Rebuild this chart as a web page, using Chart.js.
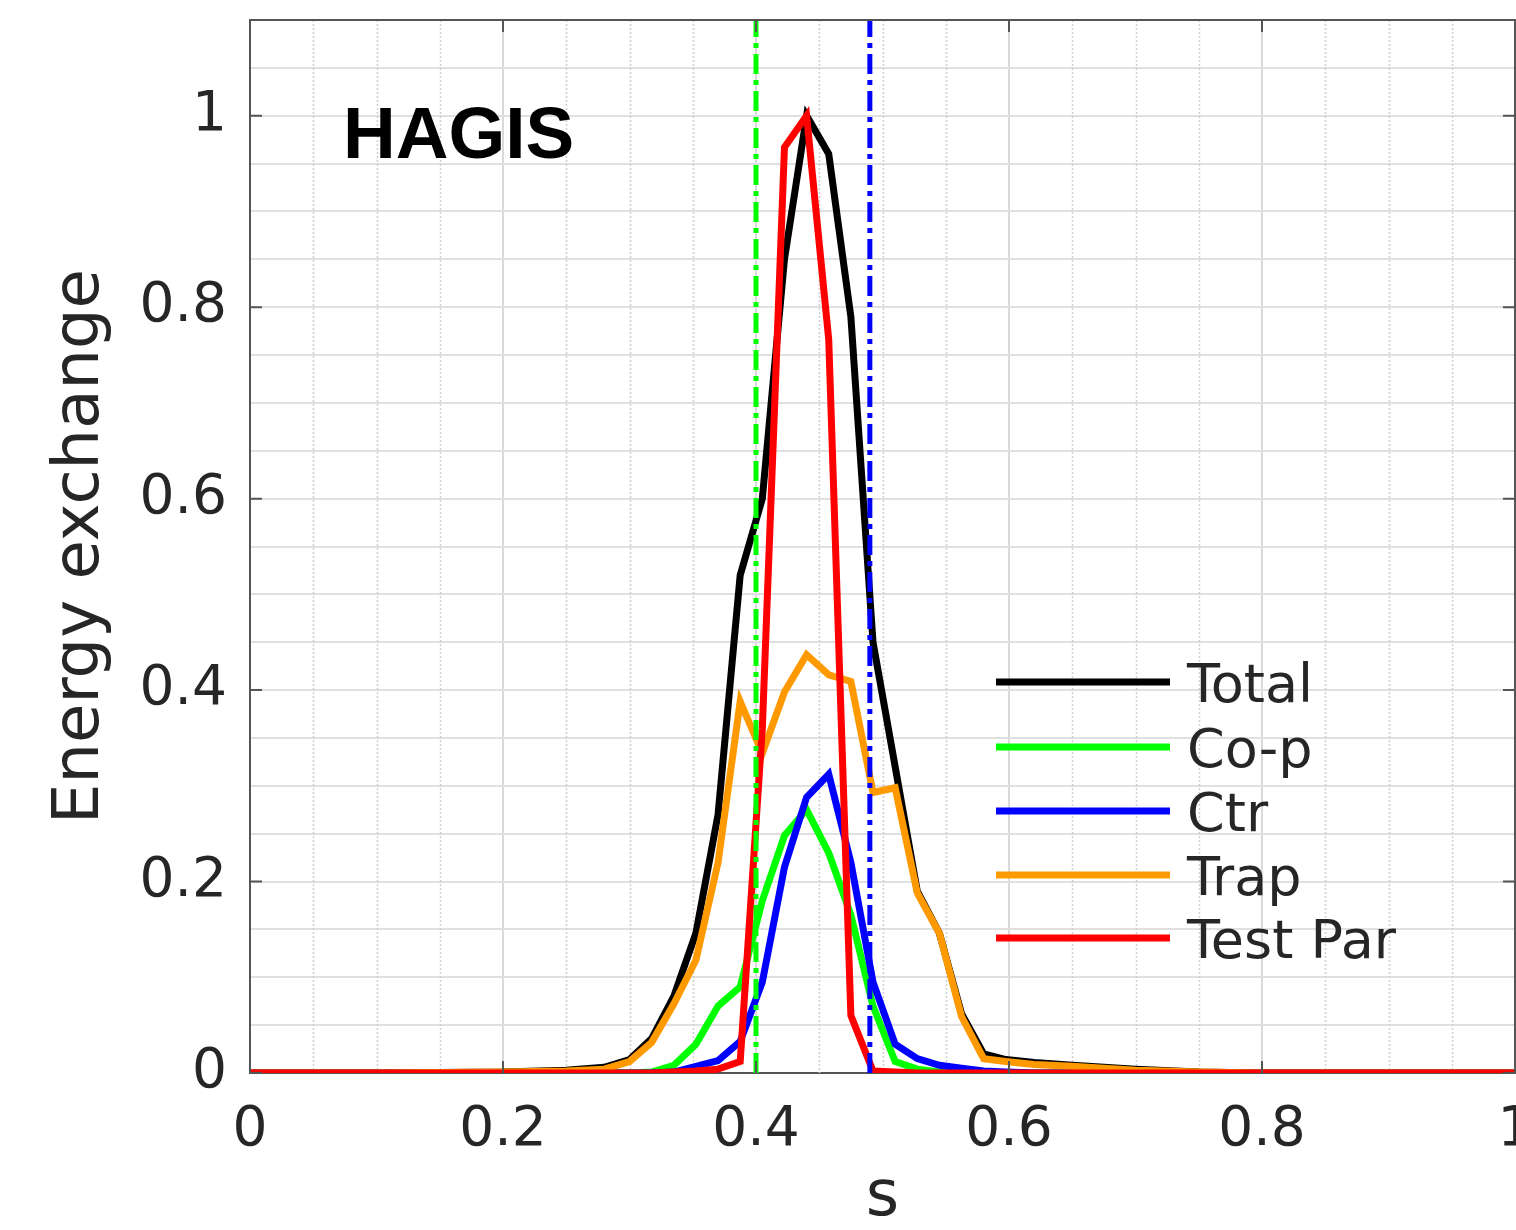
<!DOCTYPE html>
<html lang="en">
<head>
<meta charset="UTF-8">
<title>HAGIS - Energy exchange</title>
<script src="https://cdn.jsdelivr.net/npm/chart.js@4.4.1/dist/chart.umd.min.js"></script>
<style>
    html, body { margin: 0; padding: 0; background: #ffffff; }
    #chartBox { width: 1516px; height: 1230px; }
</style>
</head>
<body>
<div id="chartBox"><canvas id="energyChart" width="1516" height="1230"></canvas></div>
<script>
// Radial coordinate s, shared by every curve
const sValues = [0, 0.1, 0.2, 0.25, 0.28, 0.30, 0.3175, 0.335, 0.3525, 0.37, 0.3875, 0.405, 0.4225, 0.44,
    0.4575, 0.475, 0.4925, 0.51, 0.5275, 0.545, 0.5625, 0.58, 0.5975, 0.62, 0.65, 0.7, 0.75, 0.8, 0.9, 1.0];

// Normalised energy exchange per particle class
const totalValues = [0, 0, 0.001, 0.003, 0.006, 0.014, 0.036, 0.08, 0.146, 0.27, 0.52, 0.60, 0.85, 1.0,
    0.96, 0.79, 0.45, 0.32, 0.19, 0.146, 0.062, 0.02, 0.014, 0.011, 0.008, 0.004, 0.001, 0, 0, 0];
const coPValues = [0, 0, 0, 0, 0, 0, 0.001, 0.008, 0.03, 0.07, 0.09, 0.18, 0.248, 0.275,
    0.23, 0.165, 0.07, 0.012, 0.004, 0.001, 0, 0, 0, 0, 0, 0, 0, 0, 0, 0];
const ctrValues = [0, 0, 0, 0, 0, 0, 0, 0.001, 0.007, 0.013, 0.033, 0.095, 0.215, 0.288,
    0.312, 0.22, 0.095, 0.03, 0.015, 0.008, 0.005, 0.002, 0.001, 0, 0, 0, 0, 0, 0, 0];
const trapValues = [0, 0, 0.001, 0.002, 0.004, 0.012, 0.032, 0.072, 0.118, 0.22, 0.388, 0.334, 0.398, 0.437,
    0.416, 0.409, 0.293, 0.298, 0.188, 0.146, 0.059, 0.015, 0.012, 0.009, 0.007, 0.003, 0.001, 0, 0, 0];
const testParValues = [0, 0, 0, 0, 0, 0, 0, 0.001, 0.002, 0.004, 0.012, 0.36, 0.967, 1.0,
    0.766, 0.06, 0.002, 0.001, 0, 0, 0, 0, 0, 0, 0, 0, 0, 0, 0, 0];

// Resonance positions (dash-dot markers)
const coPResonance = 0.40;
const ctrResonance = 0.49;

// Tick labels
const xMajorTicks = [0, 0.2, 0.4, 0.6, 0.8, 1];
const xTickLabels = ['0', '0.2', '0.4', '0.6', '0.8', '1'];
const yMajorTicks = [0, 0.2, 0.4, 0.6, 0.8, 1];
const yTickLabels = ['0', '0.2', '0.4', '0.6', '0.8', '1'];

const seriesList = [
    { label: 'Total', values: totalValues, color: '#000000', order: 5 },
    { label: 'Co-p', values: coPValues, color: '#00ff00', order: 4 },
    { label: 'Ctr', values: ctrValues, color: '#0000ff', order: 3 },
    { label: 'Trap', values: trapValues, color: '#ff9900', order: 2 },
    { label: 'Test Par', values: testParValues, color: '#ff0000', order: 1 }
];

const TEXT_COLOR = '#262626';
const FONT = 'DejaVu Sans';

function toPoints(values) {
    return sValues.map((s, i) => ({ x: s, y: values[i] }));
}

function majorLabel(value, ticks, labels) {
    const i = ticks.findIndex(t => Math.abs(t - value) < 1e-6);
    return i >= 0 ? labels[i] : '';
}

function isMajor(value, ticks) {
    return ticks.some(t => Math.abs(t - value) < 1e-6);
}

function resonanceLine(s, color) {
    return {
        label: '',
        data: [{ x: s, y: 0 }, { x: s, y: 1.1 }],
        borderColor: color,
        borderWidth: 5,
        borderDash: [20, 6, 5, 6],
        pointRadius: 0,
        order: 0
    };
}

/**
 * Minor dotted grid, box frame and inward tick marks (MATLAB look)
 */
const framePlugin = {
    id: 'frame',
    beforeDatasetsDraw(chart) {
        const { ctx, chartArea: a, scales: { x } } = chart;
        ctx.save();
        ctx.strokeStyle = '#cfcfcf';
        ctx.lineWidth = 1.5;
        ctx.setLineDash([2, 2]);
        x.ticks.forEach(t => {
            if (isMajor(t.value, xMajorTicks)) return;
            const px = Math.round(x.getPixelForValue(t.value)) + 0.5;
            ctx.beginPath();
            ctx.moveTo(px, a.top);
            ctx.lineTo(px, a.bottom);
            ctx.stroke();
        });
        ctx.restore();
    },
    afterDatasetsDraw(chart) {
        const { ctx, chartArea: a, scales: { x, y } } = chart;
        ctx.save();
        ctx.strokeStyle = '#555555';
        ctx.lineWidth = 2;
        ctx.beginPath();
        ctx.moveTo(a.left, a.top);
        ctx.lineTo(a.right, a.top);
        ctx.lineTo(a.right, a.bottom);
        ctx.stroke();

        const len = 12;
        ctx.beginPath();
        xMajorTicks.forEach(v => {
            const px = x.getPixelForValue(v);
            ctx.moveTo(px, a.bottom); ctx.lineTo(px, a.bottom - len);
            ctx.moveTo(px, a.top); ctx.lineTo(px, a.top + len);
        });
        yMajorTicks.forEach(v => {
            const py = y.getPixelForValue(v);
            ctx.moveTo(a.left, py); ctx.lineTo(a.left + len, py);
            ctx.moveTo(a.right, py); ctx.lineTo(a.right - len, py);
        });
        ctx.stroke();
        ctx.restore();
    },
    afterDraw(chart) {
        const { ctx } = chart;
        ctx.save();

        // Code name label
        ctx.fillStyle = '#000000';
        ctx.font = 'bold 73px "Liberation Sans"';
        ctx.textBaseline = 'alphabetic';
        ctx.fillText('HAGIS', 343, 158);

        // Legend
        const rowY = [682, 747, 811, 875, 938];
        ctx.font = '54px "' + FONT + '"';
        seriesList.forEach((s, i) => {
            ctx.strokeStyle = s.color;
            ctx.lineWidth = 7;
            ctx.setLineDash([]);
            ctx.beginPath();
            ctx.moveTo(996, rowY[i]);
            ctx.lineTo(1170, rowY[i]);
            ctx.stroke();
            ctx.fillStyle = TEXT_COLOR;
            ctx.fillText(s.label, 1187, rowY[i] + 20);
        });
        ctx.restore();
    }
};

function initializeChart() {
    const canvas = document.getElementById('energyChart');

    const datasets = seriesList.map(s => ({
        label: s.label,
        data: toPoints(s.values),
        borderColor: s.color,
        backgroundColor: s.color,
        borderWidth: 7,
        pointRadius: 0,
        tension: 0,
        order: s.order
    }));
    datasets.push(resonanceLine(coPResonance, '#00ff00'));
    datasets.push(resonanceLine(ctrResonance, '#0000ff'));

    new Chart(canvas, {
        type: 'line',
        data: { datasets: datasets },
        options: {
            responsive: false,
            animation: false,
            events: [],
            layout: { padding: { top: 20, right: 1, left: 0, bottom: 0 } },
            plugins: {
                legend: { display: false },
                tooltip: { enabled: false }
            },
            scales: {
                x: {
                    type: 'linear',
                    min: 0,
                    max: 1,
                    afterFit: scale => {
                        scale.height = 157;
                        scale.paddingLeft = 0;
                        scale.paddingRight = 0;
                    },
                    ticks: {
                        stepSize: 0.05,
                        autoSkip: false,
                        maxRotation: 0,
                        minRotation: 0,
                        padding: 25,
                        color: TEXT_COLOR,
                        font: { family: FONT, size: 55 },
                        callback: v => majorLabel(v, xMajorTicks, xTickLabels)
                    },
                    grid: {
                        drawTicks: false,
                        lineWidth: 2,
                        color: c => isMajor(c.tick.value, xMajorTicks) ? '#dadada' : 'rgba(0,0,0,0)'
                    },
                    border: { color: '#555555', width: 2 },
                    title: {
                        display: true,
                        text: 's',
                        color: TEXT_COLOR,
                        font: { family: FONT, size: 64, lineHeight: 1 },
                        padding: { top: -9, bottom: 0 }
                    }
                },
                y: {
                    type: 'linear',
                    min: 0,
                    max: 1.1,
                    afterFit: scale => {
                        scale.width = 250;
                        scale.paddingTop = 0;
                        scale.paddingBottom = 0;
                    },
                    ticks: {
                        stepSize: 0.05,
                        autoSkip: false,
                        padding: 23,
                        color: TEXT_COLOR,
                        font: { family: FONT, size: 55 },
                        callback: v => majorLabel(v, yMajorTicks, yTickLabels)
                    },
                    grid: {
                        drawTicks: false,
                        lineWidth: 2,
                        color: '#e0e0e0'
                    },
                    border: { color: '#555555', width: 2 },
                    title: {
                        display: true,
                        text: 'Energy exchange',
                        color: TEXT_COLOR,
                        font: { family: FONT, size: 64, lineHeight: 1.2 },
                        padding: { top: 43, bottom: 0 }
                    }
                }
            }
        },
        plugins: [framePlugin]
    });
}

document.addEventListener('DOMContentLoaded', initializeChart);
</script>
</body>
</html>
